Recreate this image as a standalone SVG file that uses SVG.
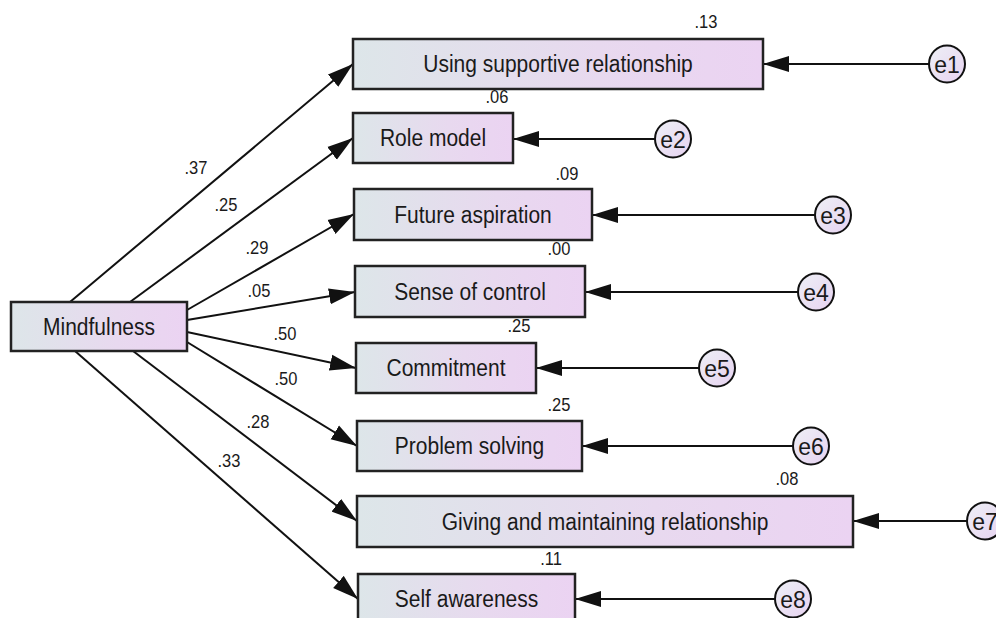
<svg xmlns="http://www.w3.org/2000/svg" width="996" height="618" viewBox="0 0 996 618">
<defs>
<linearGradient id="boxg" x1="0" y1="0" x2="1" y2="0">
<stop offset="0" stop-color="#dde6e9"/>
<stop offset="0.6" stop-color="#e8d9ef"/>
<stop offset="1" stop-color="#ebd3f2"/>
</linearGradient>
<linearGradient id="circg" x1="0" y1="0" x2="1" y2="1">
<stop offset="0" stop-color="#eef0f6"/>
<stop offset="1" stop-color="#e6d2f0"/>
</linearGradient>
<marker id="ah" markerUnits="userSpaceOnUse" markerWidth="27" markerHeight="17" refX="26" refY="8.5" orient="auto">
<path d="M0,0.5 L26,8.5 L0,16.5 Z" fill="#111"/>
</marker>
<style>
.box{fill:url(#boxg);stroke:#222;stroke-width:2.5}
.circ{fill:url(#circg);stroke:#111;stroke-width:2}
.lbl{font-family:"Liberation Sans",Arial,sans-serif;font-size:21px;fill:#1a1a1a;text-anchor:middle}
.el{font-family:"Liberation Sans",Arial,sans-serif;font-size:23px;fill:#1a1a1a;text-anchor:middle}
.num{font-family:"Liberation Sans",Arial,sans-serif;font-size:16.5px;fill:#1a1a1a;text-anchor:middle}
.ln{stroke:#111;stroke-width:2;fill:none;marker-end:url(#ah)}
</style>
</defs>
<g id="connectors">
<line class="ln" x1="70" y1="302" x2="353" y2="64"/>
<line class="ln" x1="130" y1="302" x2="353" y2="138"/>
<line class="ln" x1="187" y1="310" x2="354" y2="214"/>
<line class="ln" x1="187" y1="320" x2="355" y2="292"/>
<line class="ln" x1="187" y1="332" x2="356" y2="368"/>
<line class="ln" x1="187" y1="342" x2="357" y2="446"/>
<line class="ln" x1="133" y1="351" x2="357" y2="521"/>
<line class="ln" x1="75" y1="351" x2="358" y2="599"/>
<line class="ln" x1="929" y1="64" x2="763" y2="64"/>
<line class="ln" x1="655" y1="139" x2="513" y2="139"/>
<line class="ln" x1="815" y1="215" x2="592" y2="215"/>
<line class="ln" x1="798" y1="292" x2="585" y2="292"/>
<line class="ln" x1="699" y1="368" x2="536" y2="368"/>
<line class="ln" x1="793" y1="446" x2="582" y2="446"/>
<line class="ln" x1="967" y1="521" x2="853" y2="521"/>
<line class="ln" x1="775" y1="599" x2="575" y2="599"/>
<text class="num" transform="translate(196 174) scale(1 1.13)">.37</text>
<text class="num" transform="translate(226 211) scale(1 1.13)">.25</text>
<text class="num" transform="translate(257 254) scale(1 1.13)">.29</text>
<text class="num" transform="translate(259 297) scale(1 1.13)">.05</text>
<text class="num" transform="translate(285 340) scale(1 1.13)">.50</text>
<text class="num" transform="translate(286 385) scale(1 1.13)">.50</text>
<text class="num" transform="translate(258 428) scale(1 1.13)">.28</text>
<text class="num" transform="translate(229 467) scale(1 1.13)">.33</text>
</g>
<g id="mindfulness">
<rect class="box" x="11" y="302" width="176" height="49"/>
<text class="lbl" transform="translate(99 334.5) scale(1 1.12)">Mindfulness</text>
</g>
<g id="n1">
<rect class="box" x="353" y="39" width="410" height="50"/>
<text class="lbl" transform="translate(558 72) scale(1 1.12)">Using supportive relationship</text>
<text class="num" transform="translate(706 28) scale(1 1.13)">.13</text>
</g>
<g id="n2">
<rect class="box" x="353" y="113" width="160" height="50"/>
<text class="lbl" transform="translate(433 146) scale(1 1.12)">Role model</text>
<text class="num" transform="translate(497 103) scale(1 1.13)">.06</text>
</g>
<g id="n3">
<rect class="box" x="354" y="189" width="238" height="51"/>
<text class="lbl" transform="translate(473 222.5) scale(1 1.12)">Future aspiration</text>
<text class="num" transform="translate(567 180) scale(1 1.13)">.09</text>
</g>
<g id="n4">
<rect class="box" x="355" y="266" width="230" height="51"/>
<text class="lbl" transform="translate(470 299.5) scale(1 1.12)">Sense of control</text>
<text class="num" transform="translate(559 255) scale(1 1.13)">.00</text>
</g>
<g id="n5">
<rect class="box" x="356" y="343" width="180" height="50"/>
<text class="lbl" transform="translate(446 376) scale(1 1.12)">Commitment</text>
<text class="num" transform="translate(519 332) scale(1 1.13)">.25</text>
</g>
<g id="n6">
<rect class="box" x="357" y="421" width="225" height="50"/>
<text class="lbl" transform="translate(469.5 454) scale(1 1.12)">Problem solving</text>
<text class="num" transform="translate(559 411) scale(1 1.13)">.25</text>
</g>
<g id="n7">
<rect class="box" x="357" y="496" width="496" height="51"/>
<text class="lbl" transform="translate(605 529.5) scale(1 1.12)">Giving and maintaining relationship</text>
<text class="num" transform="translate(787 485) scale(1 1.13)">.08</text>
</g>
<g id="n8">
<rect class="box" x="358" y="574" width="217" height="50"/>
<text class="lbl" transform="translate(466.5 607) scale(1 1.12)">Self awareness</text>
<text class="num" transform="translate(551 565) scale(1 1.13)">.11</text>
</g>
<g id="e1"><ellipse class="circ" cx="947" cy="64" rx="18" ry="18.5"/><text class="el" x="947" y="72.5">e1</text></g>
<g id="e2"><ellipse class="circ" cx="673" cy="139" rx="18" ry="18.5"/><text class="el" x="673" y="147.5">e2</text></g>
<g id="e3"><ellipse class="circ" cx="833" cy="215" rx="18" ry="18.5"/><text class="el" x="833" y="223.5">e3</text></g>
<g id="e4"><ellipse class="circ" cx="816" cy="292" rx="18" ry="18.5"/><text class="el" x="816" y="300.5">e4</text></g>
<g id="e5"><ellipse class="circ" cx="717" cy="368" rx="18" ry="18.5"/><text class="el" x="717" y="376.5">e5</text></g>
<g id="e6"><ellipse class="circ" cx="811" cy="446" rx="18" ry="18.5"/><text class="el" x="811" y="454.5">e6</text></g>
<g id="e7"><ellipse class="circ" cx="985" cy="521" rx="18" ry="18.5"/><text class="el" x="985" y="529.5">e7</text></g>
<g id="e8"><ellipse class="circ" cx="793" cy="599" rx="18" ry="18.5"/><text class="el" x="793" y="607.5">e8</text></g>
</svg>
